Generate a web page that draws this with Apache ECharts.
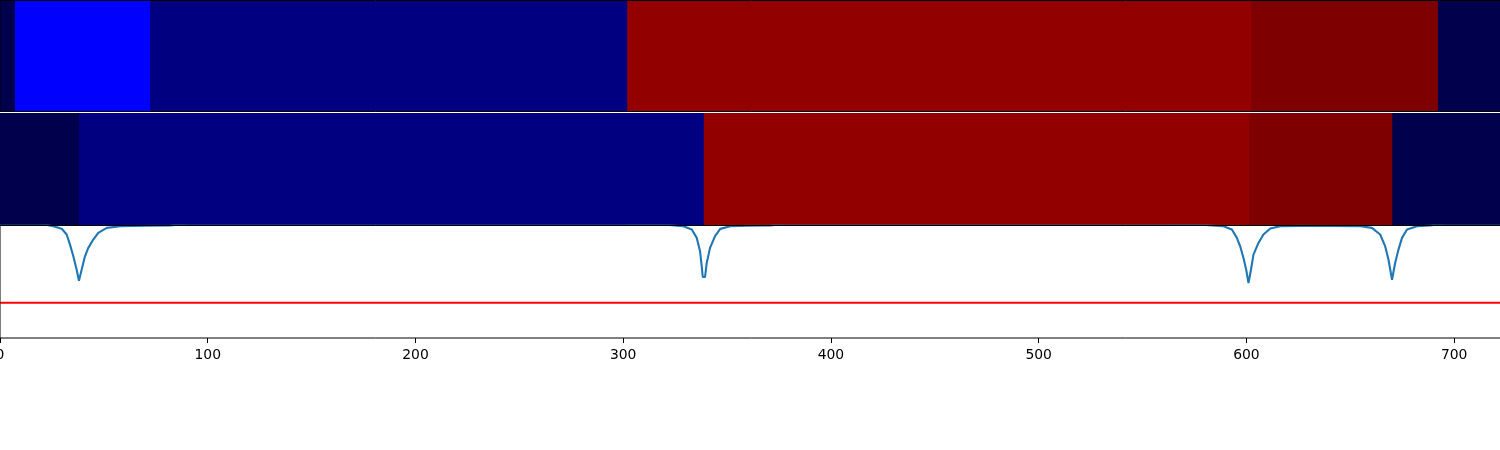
<!DOCTYPE html>
<html lang="en">
<head>
    <meta http-equiv="Content-Type" content="text/html;charset=utf-8">
    <script type="text/javascript" src="https://cdn.jsdelivr.net/npm/echarts@6/dist/echarts.min.js"></script>
    <title>segments</title>
    <style>
        html, body {margin: 0; padding: 0; background: #fff;}
    </style>
</head>
<body>
<div id="main" style="width: 1500px;height:450px;"></div>
<script>
    // colour for each state level
    var levelColors = ['#00004c', '#0000ff', '#000080', '#920000', '#7f0000'];

    // top strip: segment edges and the level of each segment
    var row1Edges = [0, 7.2, 72.2, 301.9, 602.3, 692.2, 724];
    var row1Levels = [0, 1, 2, 3, 4, 0];

    // second strip
    var row2Edges = [0, 38.0, 338.8, 601.4, 670.2, 724];
    var row2Levels = [0, 2, 3, 4, 0];

    // curve in the bottom panel (values above 1 sit outside the panel)
    var lineX = [0, 20, 25.7, 29.7, 32.1, 33.7, 35.3, 36.9, 38.0, 39.3, 40.9, 42.5, 44.9, 47.3, 51.4, 57.8, 70, 82, 90,
        300, 322, 329.0, 333.0, 335.4, 337.0, 337.8, 338.3, 339.4, 340.2, 341.8, 344.2, 346.7, 351.5, 360, 371, 378,
        560, 580, 589.0, 593.0, 595.4, 597.0, 598.6, 599.9, 601.0, 602.2, 603.4, 605.8, 608.2, 611.5, 616.3, 625.9,
        640, 655, 660.4, 664.4, 666.8, 668.4, 670.1, 671.6, 673.2, 674.9, 677.3, 682.1, 688.5, 695, 724];
    var lineY = [1.015, 1.015, 0.994, 0.971, 0.920, 0.830, 0.726, 0.607, 0.509, 0.607, 0.726, 0.801, 0.875, 0.935, 0.979, 0.994, 0.998, 1.0, 1.015,
        1.015, 1.004, 0.994, 0.964, 0.890, 0.771, 0.637, 0.542, 0.542, 0.667, 0.801, 0.905, 0.970, 0.994, 0.998, 1.0, 1.015,
        1.015, 1.004, 0.994, 0.964, 0.890, 0.815, 0.711, 0.607, 0.488, 0.607, 0.741, 0.845, 0.920, 0.973, 0.994, 0.997,
        0.996, 0.994, 0.979, 0.920, 0.815, 0.696, 0.518, 0.667, 0.786, 0.890, 0.964, 0.994, 1.0, 1.015, 1.015];

    // horizontal threshold
    var threshold = 0.3125;
    var xMin = 0, xMax = 724;
    var xTicks = [0, 100, 200, 300, 400, 500, 600, 700];

    function segments(edges, levels) {
        var out = [];
        for (var i = 0; i < levels.length; i++) {
            out.push([edges[i], edges[i + 1], levels[i]]);
        }
        return out;
    }

    function renderSegment(params, api) {
        var start = api.coord([api.value(0), 0]);
        var end = api.coord([api.value(1), 1]);
        return {
            type: 'rect',
            shape: {
                x: start[0],
                y: end[1],
                width: end[0] - start[0] + 1,   // overlap a pixel so no seam shows
                height: start[1] - end[1]
            },
            style: {fill: levelColors[api.value(2)]}
        };
    }

    var myChart = echarts.init(document.getElementById('main'));

    // the panels run past the right edge, as in the cropped original
    var gridBase = {
        left: 0, width: 1504, show: true, z: 10,
        outerBoundsMode: 'none', containLabel: false,
        borderColor: '#000', borderWidth: 1, backgroundColor: 'transparent'
    };

    function hiddenX(idx) {
        return {
            type: 'value', gridIndex: idx, min: xMin, max: xMax, interval: 100,
            show: false, splitLine: {show: false}
        };
    }

    function hiddenY(idx) {
        return {
            type: 'value', gridIndex: idx, min: 0, max: 1,
            show: false, splitLine: {show: false}
        };
    }

    var bottomX = hiddenX(2);
    bottomX.show = true;
    bottomX.axisLine = {show: false};
    bottomX.axisTick = {show: true, length: 5, lineStyle: {color: '#000', width: 1}};
    bottomX.axisLabel = {
        color: '#000', fontFamily: 'DejaVu Sans', fontSize: 13.9, margin: 10,
        showMaxLabel: false,
        formatter: function (v) {
            return xTicks.indexOf(v) >= 0 ? String(v) : '';
        }
    };

    var option = {
        animation: false,
        grid: [
            Object.assign({}, gridBase, {top: 0.5, height: 111}),
            // second strip: no frame of its own, leaves a thin white gap under the first
            Object.assign({}, gridBase, {top: 113, height: 112.5, borderWidth: 0}),
            Object.assign({}, gridBase, {top: 225.5, height: 112.5})
        ],
        xAxis: [hiddenX(0), hiddenX(1), bottomX],
        yAxis: [hiddenY(0), hiddenY(1), hiddenY(2)],
        series: [
            {
                type: 'custom', xAxisIndex: 0, yAxisIndex: 0,
                renderItem: renderSegment,
                data: segments(row1Edges, row1Levels)
            },
            {
                type: 'custom', xAxisIndex: 1, yAxisIndex: 1,
                renderItem: renderSegment,
                data: segments(row2Edges, row2Levels)
            },
            {
                type: 'line', xAxisIndex: 2, yAxisIndex: 2,
                symbol: 'none', clip: true,
                lineStyle: {color: '#1f77b4', width: 2.1},
                data: lineX.map(function (x, i) {
                    return [x, lineY[i]];
                })
            },
            {
                type: 'line', xAxisIndex: 2, yAxisIndex: 2,
                symbol: 'none',
                lineStyle: {color: '#ff0000', width: 2},
                data: [[xMin, threshold], [xMax, threshold]]
            }
        ]
    };
    myChart.setOption(option);
</script>
</body>
</html>
